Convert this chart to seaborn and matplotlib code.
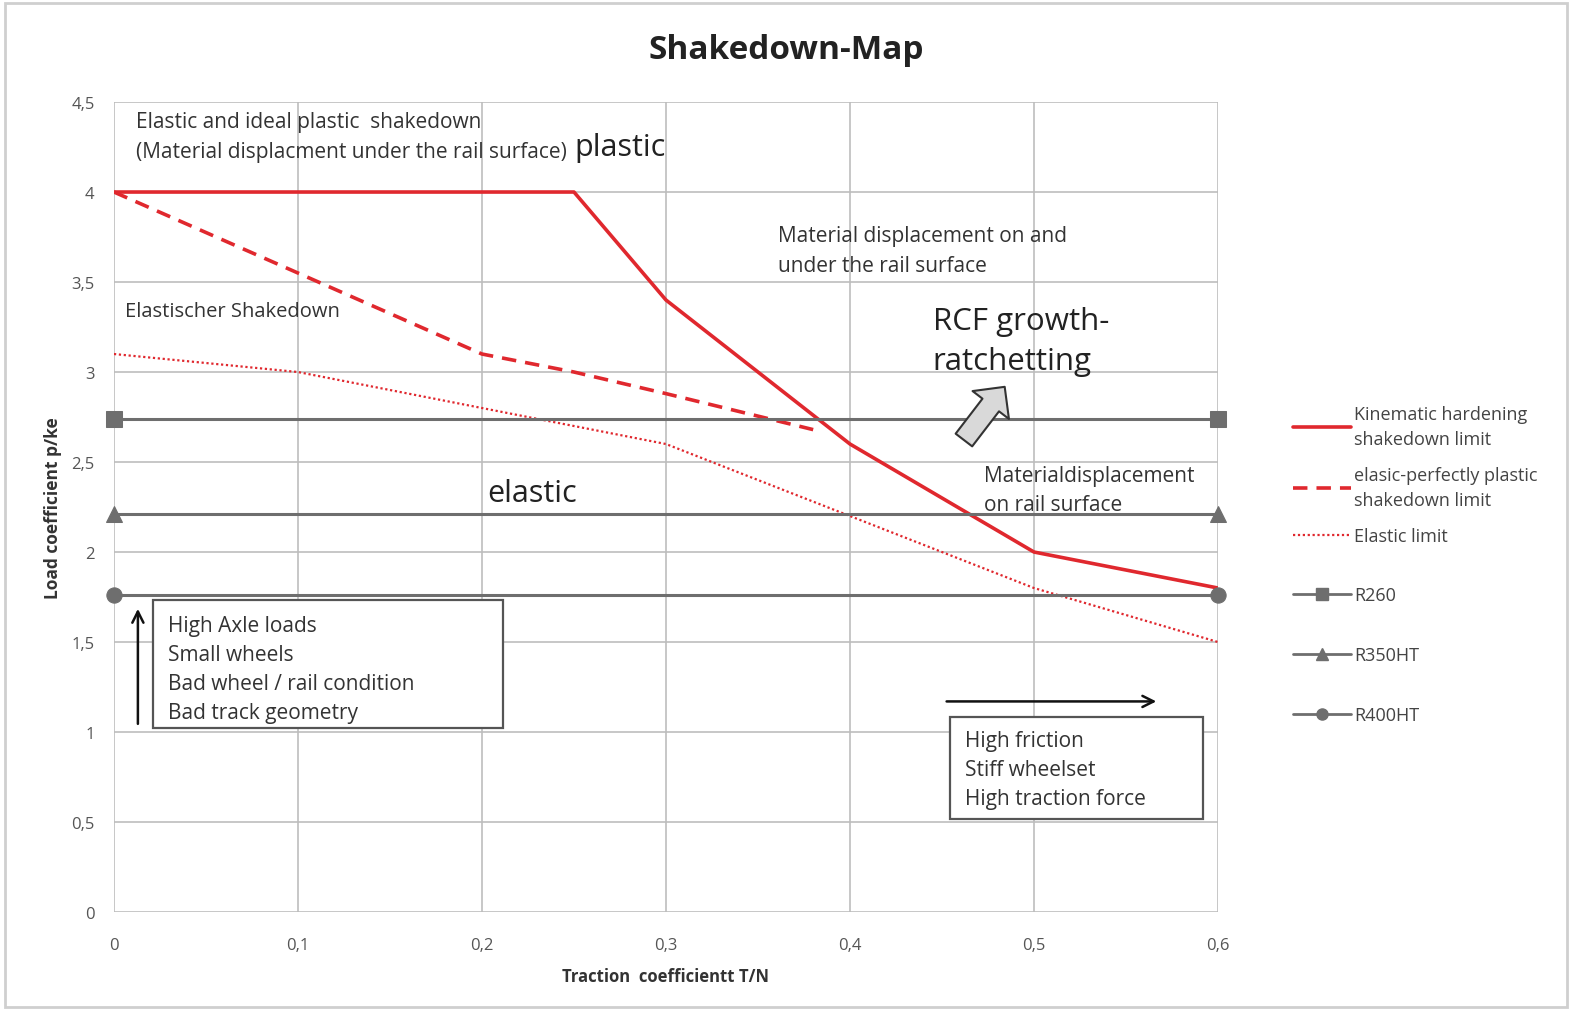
import pandas as pd
import seaborn as sns
import matplotlib.pyplot as plt
from matplotlib.lines import Line2D
from matplotlib.patches import Rectangle

# Data
kin_x = [0, 0.25, 0.3, 0.4, 0.5, 0.6]
kin_y = [4.0, 4.0, 3.4, 2.6, 2.0, 1.8]
epp_x = [0, 0.1, 0.2, 0.25, 0.3, 0.38]
epp_y = [4.0, 3.55, 3.1, 3.0, 2.88, 2.68]
el_x = [0, 0.1, 0.2, 0.3, 0.4, 0.5, 0.6]
el_y = [3.1, 3.0, 2.8, 2.6, 2.2, 1.8, 1.5]
rail_x = [0, 0.6]
rail_names = ["R260", "R350HT", "R400HT"]
rail_levels = [2.74, 2.21, 1.76]
rail_markers = ["s", "^", "o"]

x_ticks = [0, 0.1, 0.2, 0.3, 0.4, 0.5, 0.6]
y_ticks = [0, 0.5, 1, 1.5, 2, 2.5, 3, 3.5, 4, 4.5]

sns.set_style("white")
plt.rcParams["font.family"] = ["Open Sans", "DejaVu Sans"]

red = "#e0282e"
gray = "#6e6e6e"
txt = "#333333"
fs = 15

fig = plt.figure(figsize=(15.72, 10.12), dpi=100)
ax = fig.add_axes([0.0725, 0.0978, 0.7023, 0.8004])

sns.lineplot(x=kin_x, y=kin_y, ax=ax, color=red, linewidth=2.6)
sns.lineplot(x=epp_x, y=epp_y, ax=ax, color=red, linewidth=2.6)
ax.lines[-1].set_linestyle((0, (4, 2.5)))
sns.lineplot(x=el_x, y=el_y, ax=ax, color=red, linewidth=1.6)
ax.lines[-1].set_linestyle((0, (1, 1.2)))

for lvl, mk in zip(rail_levels, rail_markers):
    sns.lineplot(x=rail_x, y=[lvl, lvl], ax=ax, color=gray, linewidth=2.2,
                 marker=mk, markersize=11, markeredgecolor=gray, clip_on=False)

ax.set_xlim(0, 0.6)
ax.set_ylim(0, 4.5)
ax.set_xticks(x_ticks)
ax.set_yticks(y_ticks)
ax.set_xticklabels([f"{v:g}".replace(".", ",") for v in x_ticks], fontsize=12, color="#555555")
ax.set_yticklabels([f"{v:g}".replace(".", ",") for v in y_ticks], fontsize=12, color="#555555")
ax.tick_params(axis="x", pad=18, length=0)
ax.tick_params(axis="y", pad=14, length=0)
ax.grid(True, color="#bdbdbd", linewidth=1.2)
ax.set_axisbelow(True)
for s in ax.spines.values():
    s.set_visible(False)

ax.set_xlabel("Traction  coefficientt T/N", fontsize=12, fontweight="bold", color=txt, labelpad=10)
ax.set_ylabel("Load coefficient p/ke", fontsize=12.5, fontweight="bold", color=txt)
ax.yaxis.set_label_coords(-0.047, 0.5)

fig.suptitle("Shakedown-Map", x=0.5, y=0.966, fontsize=24, fontweight="bold", color="#222222")

# Annotations
ax.text(0.012, 4.45, "Elastic and ideal plastic  shakedown\n(Material displacment under the rail surface)",
        fontsize=fs, color=txt, va="top", linespacing=1.55)
ax.text(0.25, 4.25, "plastic", fontsize=22, color="#222222", va="center")
ax.text(0.361, 3.815, "Material displacement on and\nunder the rail surface",
        fontsize=fs, color=txt, va="top", linespacing=1.55)
ax.text(0.006, 3.34, "Elastischer Shakedown", fontsize=14.5, color=txt, va="center")
ax.text(0.445, 3.365, "RCF growth-\nratchetting", fontsize=22.5, color="#222222", va="top", linespacing=1.4)
ax.text(0.473, 2.345, "Materialdisplacement\non rail surface", fontsize=fs, color=txt, va="center", linespacing=1.55)
ax.text(0.203, 2.33, "elastic", fontsize=22, color="#222222", va="center")

ax.annotate("", xy=(0.485, 2.93), xytext=(0.461, 2.61),
            arrowprops=dict(arrowstyle="simple,head_length=1.1,head_width=2.2,tail_width=1.0",
                            mutation_scale=15, facecolor="#d9d9d9", edgecolor="#333333", lw=1.5))

# Box on the left
ax.add_patch(Rectangle((0.0212, 1.022), 0.1902, 0.711, facecolor="white",
                       edgecolor="#555555", linewidth=1.6, zorder=3))
ax.text(0.0293, 1.65, "High Axle loads\nSmall wheels\nBad wheel / rail condition\nBad track geometry",
        fontsize=fs, color=txt, va="top", linespacing=1.5, zorder=4)
ax.annotate("", xy=(0.013, 1.7), xytext=(0.013, 1.03),
            arrowprops=dict(arrowstyle="->", color="#111111", lw=1.8, mutation_scale=20))

# Box on the right
ax.add_patch(Rectangle((0.4543, 0.516), 0.1375, 0.567, facecolor="white",
                       edgecolor="#555555", linewidth=1.6, zorder=3))
ax.text(0.4627, 1.01, "High friction\nStiff wheelset\nHigh traction force",
        fontsize=fs, color=txt, va="top", linespacing=1.5, zorder=4)
ax.annotate("", xy=(0.568, 1.17), xytext=(0.451, 1.17),
            arrowprops=dict(arrowstyle="->", color="#111111", lw=1.8, mutation_scale=20))

# Legend
red_handles = [
    Line2D([], [], color=red, lw=2.6),
    Line2D([], [], color=red, lw=2.6, linestyle=(0, (4, 2.5))),
    Line2D([], [], color=red, lw=1.6, linestyle=(0, (1, 1.2))),
]
red_labels = ["Kinematic hardening\nshakedown limit", "elasic-perfectly plastic\nshakedown limit", "Elastic limit"]
rail_handles = [Line2D([], [], color=gray, lw=2, marker=mk, markersize=8) for mk in rail_markers]

leg1 = fig.legend(red_handles, red_labels, loc="upper left", bbox_to_anchor=(0.8225, 0.599),
                  frameon=False, fontsize=13, handlelength=3.2, handletextpad=0.2,
                  labelspacing=1.0, borderpad=0, borderaxespad=0)
leg2 = fig.legend(rail_handles, rail_names, loc="upper left", bbox_to_anchor=(0.8225, 0.420),
                  frameon=False, fontsize=13, handlelength=3.2, handletextpad=0.2,
                  labelspacing=2.33, borderpad=0, borderaxespad=0)
for leg in (leg1, leg2):
    for t in leg.get_texts():
        t.set_color("#444444")
        t.set_linespacing(1.5)

# Outer border
fig.patches.append(Rectangle((0.003, 0.004), 0.994, 0.992, transform=fig.transFigure,
                             fill=False, edgecolor="#cfcfcf", linewidth=2))

plt.savefig("out.png", dpi=100)
